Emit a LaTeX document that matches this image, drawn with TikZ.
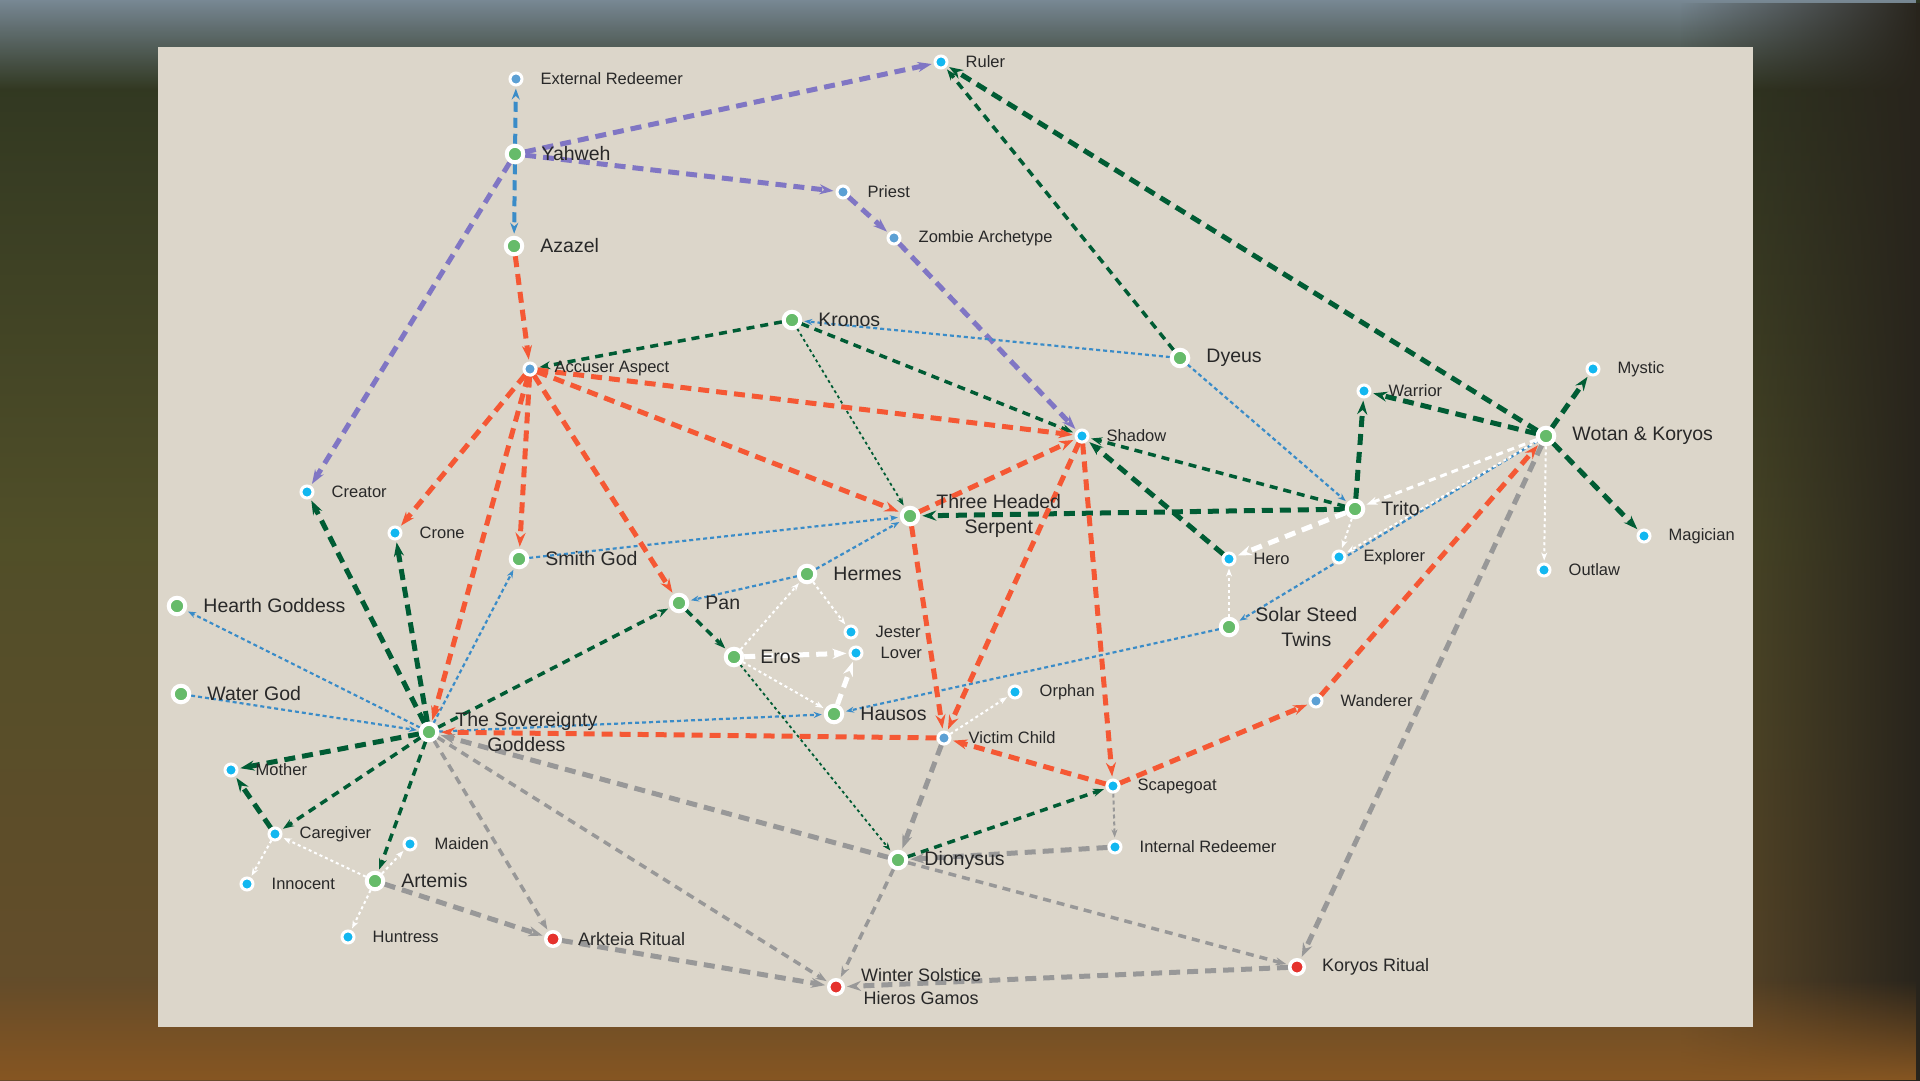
\documentclass[tikz,border=0pt]{standalone}
\usepackage{fontspec}
\setmainfont{Liberation Sans}
\usetikzlibrary{arrows.meta,positioning,fadings}
\definecolor{panelbg}{RGB}{220,214,202}
\definecolor{godgreen}{RGB}{102,187,106}
\definecolor{archcyan}{RGB}{18,183,240}
\definecolor{archsteel}{RGB}{92,160,212}
\definecolor{ritualred}{RGB}{229,50,45}
\definecolor{linepurple}{RGB}{128,118,196}
\definecolor{lineblue}{RGB}{58,140,200}
\definecolor{linegreen}{RGB}{0,92,52}
\definecolor{lineorange}{RGB}{245,88,52}
\definecolor{linegrey}{RGB}{152,152,152}
\definecolor{labeltext}{RGB}{40,40,40}
\definecolor{skyblue}{RGB}{120,136,148}
\definecolor{forestdark}{RGB}{44,52,32}
\definecolor{forestgold}{RGB}{96,90,44}
\definecolor{earthbrown}{RGB}{104,76,42}
\definecolor{trunkdark}{RGB}{40,36,28}
\pgfdeclarelayer{backdrop}
\pgfdeclarelayer{edges}
\pgfsetlayers{backdrop,edges,main}

\tikzset{
  god/.style={circle, fill=godgreen, draw=white, line width=4pt, minimum size=16.5pt, inner sep=0pt},
  arch/.style={circle, fill=archcyan, draw=white, line width=3pt, minimum size=12pt, inner sep=0pt},
  archdim/.style={arch, fill=archsteel},
  ritual/.style={circle, fill=ritualred, draw=white, line width=3.5pt, minimum size=14.5pt, inner sep=0pt},
  glbl/.style={label distance=16pt, inner sep=0pt, text=labeltext, align=center, font=\fontsize{19.5}{25}\selectfont},
  albl/.style={label distance=17pt, inner sep=0pt, text=labeltext, font=\fontsize{16.5}{20}\selectfont},
  rlbl/.style={label distance=16pt, inner sep=0pt, text=labeltext, align=center, font=\fontsize{18}{23}\selectfont},
  bigtip/.style={-{Stealth[length=14pt,width=10pt]}, shorten >=2pt},
  midtip/.style={-{Stealth[length=11pt,width=8pt]}, shorten >=2pt},
  smalltip/.style={-{Stealth[length=8pt,width=6pt]}, shorten >=2pt},
  purp/.style={draw=linepurple, line width=5pt, dash pattern=on 11pt off 7pt, bigtip},
  bluthick/.style={draw=lineblue, line width=4pt, dash pattern=on 10pt off 6pt, midtip},
  bludot/.style={draw=lineblue, line width=2.2pt, dash pattern=on 4pt off 3pt, smalltip},
  grnthick/.style={draw=linegreen, line width=5pt, dash pattern=on 11pt off 7pt, bigtip},
  grnmid/.style={draw=linegreen, line width=3.5pt, dash pattern=on 8pt off 6pt, midtip},
  grndot/.style={draw=linegreen, line width=1.8pt, dash pattern=on 3pt off 3pt, smalltip},
  orng/.style={draw=lineorange, line width=5pt, dash pattern=on 11pt off 7pt, bigtip},
  grythick/.style={draw=linegrey, line width=5pt, dash pattern=on 11pt off 7pt, bigtip},
  grymid/.style={draw=linegrey, line width=3.5pt, dash pattern=on 8pt off 6pt, midtip},
  grydot/.style={draw=linegrey, line width=2pt, dash pattern=on 4pt off 3pt, smalltip},
  whtthick/.style={draw=white, line width=5pt, dash pattern=on 11pt off 7pt, bigtip},
  whtmid/.style={draw=white, line width=3pt, dash pattern=on 7pt off 5pt, midtip},
  whtdot/.style={draw=white, line width=2pt, dash pattern=on 3pt off 3pt, smalltip},
}

\begin{document}
\begin{tikzpicture}[x=1pt, y=-1pt]
\useasboundingbox (0,0) rectangle (1920,1080);

% Backdrop and panel
\begin{pgfonlayer}{backdrop}
\fill[top color=forestdark, bottom color=earthbrown, middle color=forestgold!70!forestdark] (0,0) rectangle (1920,1080);
\fill[skyblue, path fading=south] (0,0) rectangle (1920,90);
\fill[trunkdark, path fading=west] (1680,0) rectangle (1920,1080);
\fill[earthbrown!80!orange, path fading=north] (0,980) rectangle (1920,1080);
\fill[panelbg] (158,47) rectangle (1753,1027);
\end{pgfonlayer}

% Deities
\node[god, label={[glbl]right:Yahweh}] (yahweh) at (515,154) {};
\node[god, label={[glbl]right:Azazel}] (azazel) at (514,246) {};
\node[god, label={[glbl]right:Kronos}] (kronos) at (792,320) {};
\node[god, label={[glbl]right:Dyeus}] (dyeus) at (1180,358) {};
\node[god, label={[glbl]right:Wotan \& Koryos}] (wotan) at (1546,436) {};
\node[god, label={[glbl]right:Three Headed\\Serpent}] (serpent) at (910,516) {};
\node[god, label={[glbl]right:Trito}] (trito) at (1355,509) {};
\node[god, label={[glbl]right:Smith God}] (smith) at (519,559) {};
\node[god, label={[glbl]right:Hermes}] (hermes) at (807,574) {};
\node[god, label={[glbl]right:Pan}] (pan) at (679,603) {};
\node[god, label={[glbl]right:Hearth Goddess}] (hearth) at (177,606) {};
\node[god, label={[glbl]right:Solar Steed\\Twins}] (solar) at (1229,627) {};
\node[god, label={[glbl]right:Eros}] (eros) at (734,657) {};
\node[god, label={[glbl]right:Water God}] (water) at (181,694) {};
\node[god, label={[glbl]right:Hausos}] (hausos) at (834,714) {};
\node[god, label={[glbl]right:The Sovereignty\\Goddess}] (sov) at (429,732) {};
\node[god, label={[glbl]right:Dionysus}] (dionysus) at (898,860) {};
\node[god, label={[glbl]right:Artemis}] (artemis) at (375,881) {};

% Archetypes
\node[archdim, label={[albl]right:External Redeemer}] (extred) at (516,79) {};
\node[arch, label={[albl]right:Ruler}] (ruler) at (941,62) {};
\node[archdim, label={[albl]right:Priest}] (priest) at (843,192) {};
\node[archdim, label={[albl]right:Zombie Archetype}] (zombie) at (894,238) {};
\node[archdim, label={[albl]right:Accuser Aspect}] (accuser) at (530,369) {};
\node[arch, label={[albl]right:Shadow}] (shadow) at (1082,436) {};
\node[arch, label={[albl]right:Mystic}] (mystic) at (1593,369) {};
\node[arch, label={[albl]right:Warrior}] (warrior) at (1364,391) {};
\node[arch, label={[albl]right:Creator}] (creator) at (307,492) {};
\node[arch, label={[albl]right:Crone}] (crone) at (395,533) {};
\node[arch, label={[albl]right:Hero}] (hero) at (1229,559) {};
\node[arch, label={[albl]right:Explorer}] (explorer) at (1339,557) {};
\node[arch, label={[albl]right:Magician}] (magician) at (1644,536) {};
\node[arch, label={[albl]right:Outlaw}] (outlaw) at (1544,570) {};
\node[arch, label={[albl]right:Jester}] (jester) at (851,632) {};
\node[arch, label={[albl]right:Lover}] (lover) at (856,653) {};
\node[arch, label={[albl]right:Orphan}] (orphan) at (1015,692) {};
\node[archdim, label={[albl]right:Wanderer}] (wanderer) at (1316,701) {};
\node[archdim, label={[albl]right:Victim Child}] (victim) at (944,738) {};
\node[arch, label={[albl]right:Mother}] (mother) at (231,770) {};
\node[arch, label={[albl]right:Scapegoat}] (scapegoat) at (1113,786) {};
\node[arch, label={[albl]right:Caregiver}] (caregiver) at (275,834) {};
\node[arch, label={[albl]right:Maiden}] (maiden) at (410,844) {};
\node[arch, label={[albl]right:Internal Redeemer}] (innred) at (1115,847) {};
\node[arch, label={[albl]right:Innocent}] (innocent) at (247,884) {};
\node[arch, label={[albl]right:Huntress}] (huntress) at (348,937) {};

% Rituals
\node[ritual, label={[rlbl]right:Arkteia Ritual}] (arkteia) at (553,939) {};
\node[ritual, label={[rlbl]right:Koryos Ritual}] (koryos) at (1297,967) {};
\node[ritual, label={[rlbl]right:Winter Solstice\\Hieros Gamos}] (winter) at (836,987) {};

% Edges
\begin{pgfonlayer}{edges}
\foreach \a/\b in {yahweh/ruler, yahweh/priest, yahweh/creator, priest/zombie, zombie/shadow}
  \draw[purp] (\a) -- (\b);
\foreach \a/\b in {yahweh/extred, yahweh/azazel}
  \draw[bluthick] (\a) -- (\b);
\foreach \a/\b in {dyeus/kronos, dyeus/trito, smith/serpent, hermes/serpent, hermes/pan, sov/smith, sov/hearth, water/sov, sov/hausos, solar/hausos, wotan/solar}
  \draw[bludot] (\a) -- (\b);
\foreach \a/\b in {wotan/ruler, wotan/warrior, wotan/mystic, wotan/magician, trito/warrior, trito/serpent, hero/shadow, sov/creator, sov/crone, sov/mother, caregiver/mother}
  \draw[grnthick] (\a) -- (\b);
\foreach \a/\b in {kronos/accuser, kronos/shadow, dyeus/ruler, trito/shadow, sov/pan, sov/caregiver, sov/artemis, pan/eros, dionysus/scapegoat}
  \draw[grnmid] (\a) -- (\b);
\foreach \a/\b in {kronos/serpent, eros/dionysus}
  \draw[grndot] (\a) -- (\b);
\foreach \a/\b in {azazel/accuser, accuser/crone, accuser/sov, accuser/smith, accuser/pan, accuser/serpent, accuser/shadow, serpent/shadow, serpent/victim, shadow/victim, shadow/scapegoat, victim/sov, scapegoat/victim, scapegoat/wanderer, wanderer/wotan}
  \draw[orng] (\a) -- (\b);
\foreach \a/\b in {artemis/arkteia, arkteia/winter, dionysus/sov, innred/dionysus, victim/dionysus, koryos/winter, wotan/koryos}
  \draw[grythick] (\a) -- (\b);
\foreach \a/\b in {sov/arkteia, sov/winter, dionysus/winter, dionysus/koryos}
  \draw[grymid] (\a) -- (\b);
\draw[grydot] (scapegoat) -- (innred);
\foreach \a/\b in {trito/hero, eros/lover, hausos/lover}
  \draw[whtthick] (\a) -- (\b);
\draw[whtmid] (wotan) -- (trito);
\foreach \a/\b in {trito/explorer, wotan/explorer, wotan/outlaw, solar/hero, hermes/jester, eros/hermes, eros/hausos, victim/orphan, artemis/caregiver, artemis/maiden, artemis/huntress, caregiver/innocent}
  \draw[whtdot] (\a) -- (\b);
\end{pgfonlayer}
\end{tikzpicture}
\end{document}
